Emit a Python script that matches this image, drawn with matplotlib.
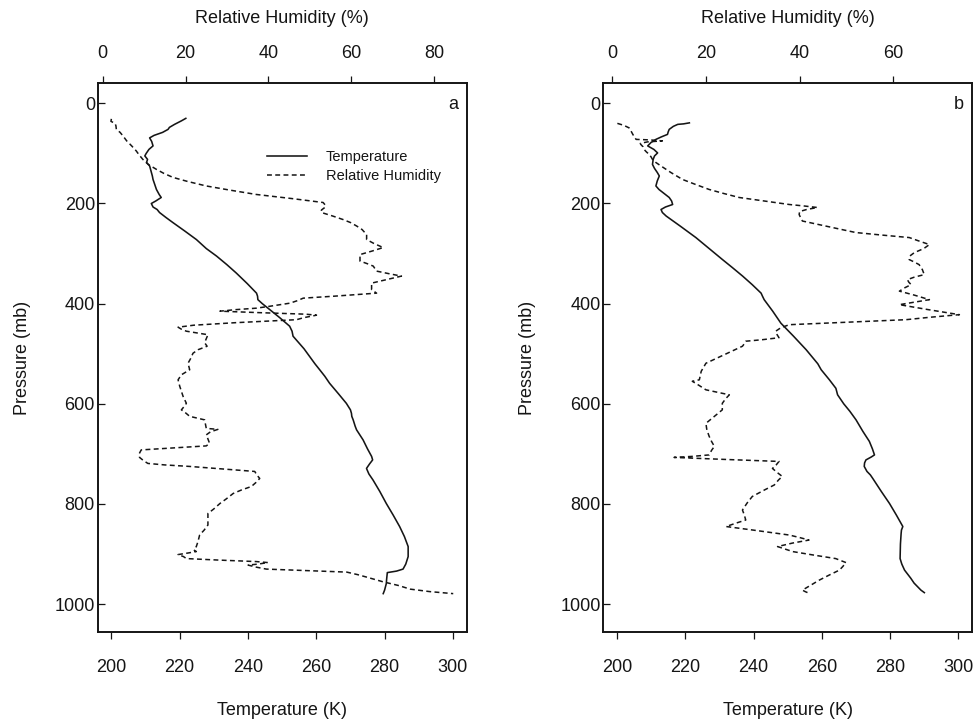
import matplotlib
matplotlib.use("Agg")
import matplotlib.pyplot as plt

plt.rcParams['font.family'] = ['Liberation Sans', 'DejaVu Sans']

# ---------------- data: panel a ----------------
pres_temp_a = [30, 35, 42, 48, 52, 58, 64, 69, 76, 85, 92, 100, 105, 112, 118, 125, 135, 145, 152, 160,
               172, 182, 188, 195, 200, 207, 212, 218, 228, 238, 255, 272, 290, 305, 322, 339, 360, 379,
               385, 392, 400, 412, 428, 445, 455, 465, 490, 520, 532, 545, 559, 580, 599, 612, 619, 625,
               632, 645, 652, 672, 690, 705, 712, 720, 729, 740, 752, 775, 799, 822, 845, 865, 885, 905,
               920, 930, 934, 937, 950, 959, 972, 979]
temp_a = [221.8, 220.5, 218.5, 217.0, 216.6, 215.0, 212.5, 211.2, 211.8, 212.2, 211.0, 210.2, 209.8, 210.6,
          210.3, 211.2, 211.6, 212.0, 212.2, 212.6, 213.2, 214.0, 214.6, 213.0, 211.7, 212.2, 213.4, 214.1,
          216.0, 218.0, 221.5, 224.9, 227.8, 230.8, 233.8, 236.6, 239.8, 242.5, 242.8, 242.9, 244.2, 246.4,
          249.3, 252.2, 252.9, 253.2, 256.4, 259.6, 261.0, 262.5, 263.9, 266.5, 268.8, 270.0, 270.3, 270.4,
          270.8, 271.4, 271.8, 273.7, 275.0, 276.2, 276.5, 275.6, 274.7, 275.4, 276.6, 278.6, 280.5, 282.5,
          284.4, 285.8, 286.9, 286.9, 286.2, 285.4, 283.5, 280.8, 280.6, 280.5, 280.0, 279.6]

pres_rh_a = [31, 36, 40, 45, 52, 58, 65, 75, 85, 95, 103, 112, 122, 132, 140, 148, 156, 165, 173, 182, 190,
             198, 204, 208, 213, 218, 225, 232, 238, 245, 252, 262, 272, 280, 288, 295, 302, 315, 320, 325,
             335, 340, 345, 352, 359, 372, 379, 385, 389, 394, 399, 405, 409, 412, 415, 418, 421, 423, 428,
             432, 438, 443, 447, 451, 455, 462, 470, 478, 485, 492, 499, 510, 519, 532, 542, 552, 565, 575,
             585, 599, 606, 612, 618, 625, 632, 640, 649, 651, 656, 662, 670, 679, 684, 688, 692, 700, 707,
             713, 719, 722, 725, 730, 735, 742, 749, 757, 765, 772, 779, 790, 799, 810, 819, 830, 842, 852,
             862, 875, 885, 892, 895, 898, 901, 905, 909, 912, 915, 917, 920, 922, 926, 930, 933, 936, 941,
             946, 955, 963, 970, 975, 979]
rh_a = [2.1, 2.0, 3.0, 3.2, 3.3, 4.2, 4.9, 5.8, 7.0, 8.1, 8.8, 9.7, 11.0, 13.0, 14.8, 17.0, 20.5, 25.0, 30.5,
        37.1, 45.5, 53.2, 53.8, 53.6, 52.8, 52.8, 55.5, 58.0, 59.8, 61.3, 62.6, 63.7, 63.7, 65.5, 67.7, 65.0,
        62.1, 62.1, 63.8, 65.3, 66.1, 69.0, 72.1, 68.5, 64.9, 64.9, 66.1, 56.0, 48.4, 47.0, 45.2, 40.5, 37.1,
        32.0, 28.3, 38.0, 49.0, 51.6, 48.5, 46.8, 32.0, 22.0, 18.2, 19.0, 20.2, 25.4, 25.0, 24.6, 25.2, 23.0,
        21.8, 21.2, 20.6, 21.0, 19.0, 18.2, 18.6, 19.0, 19.4, 20.2, 19.6, 19.0, 20.0, 21.0, 24.6, 24.8, 25.0,
        27.8, 26.0, 25.0, 25.4, 25.8, 25.0, 17.0, 9.3, 8.8, 8.9, 9.8, 10.9, 15.0, 21.0, 29.0, 36.7, 37.2,
        37.9, 37.0, 35.9, 33.5, 31.5, 29.8, 28.3, 26.8, 25.4, 25.4, 25.4, 24.5, 23.4, 23.0, 22.6, 22.0, 22.6,
        20.5, 18.2, 19.5, 20.2, 28.0, 37.1, 39.9, 37.5, 35.1, 37.0, 39.5, 49.0, 58.9, 61.5, 63.7, 67.5, 71.5,
        74.2, 79.0, 84.6]

# ---------------- data: panel b ----------------
pres_temp_b = [39, 41, 42, 46, 52, 57, 62, 67, 72, 78, 85, 92, 99, 105, 112, 122, 130, 138, 145, 155, 165,
               172, 180, 188, 195, 202, 207, 212, 218, 225, 245, 268, 290, 312, 328, 345, 362, 379, 385, 392,
               415, 439, 465, 492, 520, 532, 552, 569, 582, 600, 615, 632, 655, 675, 690, 702, 706, 712, 718,
               725, 735, 742, 749, 775, 799, 822, 845, 852, 859, 880, 909, 920, 932, 948, 958, 965, 972, 977]
temp_b = [221.2, 219.5, 217.8, 216.5, 215.3, 215.0, 214.8, 213.0, 211.4, 210.0, 209.0, 210.8, 211.9, 211.0,
          210.6, 210.4, 211.0, 211.8, 212.4, 211.8, 211.4, 212.3, 213.8, 215.3, 216.0, 216.3, 214.2, 212.9,
          213.3, 214.4, 218.5, 223.1, 227.0, 230.9, 233.8, 236.8, 239.6, 242.2, 242.6, 243.1, 245.6, 248.0,
          251.7, 255.4, 258.8, 259.8, 262.2, 264.1, 264.6, 266.4, 268.2, 270.0, 272.0, 273.9, 274.8, 275.4,
          274.5, 272.9, 272.5, 272.4, 273.2, 274.2, 274.9, 277.4, 279.8, 281.8, 283.7, 283.3, 283.2, 283.0,
          282.9, 283.4, 284.2, 286.0, 287.0, 288.0, 289.0, 290.0]

pres_rh_b = [40, 44, 49, 55, 62, 68, 72, 73, 75, 77, 80, 82, 87, 92, 97, 102, 107, 112, 118, 125, 138, 152,
             162, 172, 180, 188, 195, 202, 205, 208, 212, 216, 222, 228, 235, 245, 252, 258, 263, 268, 275,
             282, 290, 298, 305, 312, 317, 322, 332, 342, 347, 352, 357, 362, 368, 375, 383, 392, 397, 402,
             412, 422, 427, 432, 437, 442, 448, 455, 462, 468, 472, 475, 480, 485, 495, 508, 519, 535, 552,
             555, 563, 572, 577, 582, 590, 599, 612, 625, 639, 652, 665, 675, 685, 693, 702, 705, 707, 711,
             715, 722, 729, 737, 745, 752, 762, 772, 785, 798, 812, 822, 832, 838, 845, 852, 862, 867, 872,
             878, 885, 890, 895, 902, 909, 913, 917, 925, 932, 942, 952, 962, 972, 975, 977]
rh_b = [1.1, 2.5, 3.6, 4.0, 4.4, 4.8, 5.1, 8.0, 10.7, 7.5, 6.0, 6.1, 6.6, 6.8, 7.3, 7.9, 8.3, 8.6, 9.3, 10.4,
        12.5, 15.0, 17.8, 20.7, 23.8, 27.1, 32.5, 37.8, 41.0, 43.8, 41.5, 40.0, 39.9, 40.2, 40.6, 45.5, 49.0,
        52.0, 57.5, 63.4, 65.5, 67.7, 66.5, 64.5, 63.5, 63.4, 64.5, 65.5, 66.2, 66.6, 64.5, 63.0, 63.3, 63.8,
        62.5, 61.3, 64.5, 67.7, 64.5, 61.3, 67.5, 74.1, 68.0, 62.7, 50.0, 37.8, 36.0, 34.9, 35.2, 35.6, 32.0,
        28.5, 28.2, 27.8, 25.5, 22.5, 20.0, 19.0, 18.6, 17.1, 18.5, 20.0, 22.5, 25.0, 24.2, 23.5, 23.5, 21.8,
        20.0, 20.2, 20.7, 21.2, 21.8, 21.2, 20.7, 17.0, 13.2, 24.0, 35.6, 35.0, 34.2, 35.2, 36.3, 35.5, 34.6,
        32.5, 29.9, 28.8, 27.8, 28.2, 28.5, 26.5, 24.3, 30.0, 37.8, 40.0, 42.0, 38.5, 35.3, 36.9, 38.5, 43.0,
        47.7, 48.8, 49.9, 49.2, 48.5, 46.3, 44.2, 42.4, 40.6, 41.2, 41.7]

temp_ticks = [200, 220, 240, 260, 280, 300]
rh_ticks_a = [0, 20, 40, 60, 80]
rh_ticks_b = [0, 20, 40, 60]
pres_ticks = [0, 200, 400, 600, 800, 1000]

panels = [
    dict(letter='a', left=97.7, pt=pres_temp_a, t=temp_a, pr=pres_rh_a, rh=rh_a,
         rhticks=rh_ticks_a, rhlim=(-1.2, 87.9), legend=True),
    dict(letter='b', left=603.3, pt=pres_temp_b, t=temp_b, pr=pres_rh_b, rh=rh_b,
         rhticks=rh_ticks_b, rhlim=(-1.9, 76.9), legend=False),
]

W, H = 977, 720
fig = plt.figure(figsize=(W / 100, H / 100), dpi=100)
ink = '#151515'
fs = 13

for p in panels:
    ax = fig.add_axes([p['left'] / W, (H - 631.7) / H, 369.2 / W, 548.4 / H])
    lt, = ax.plot(p['t'], p['pt'], color=ink, lw=1.15, label='Temperature')
    ax.set_xticks(temp_ticks)
    ax.set_yticks(pres_ticks)
    ax.set_xlim(196.0, 304.1)
    ax.set_ylim(1055, -40)
    ax.tick_params(axis='x', direction='out', length=4.8, width=0.9, pad=14.5, labelsize=fs, colors=ink)
    ax.tick_params(axis='y', direction='in', length=5, width=0.9, pad=2, labelsize=fs, colors=ink)
    ax.set_xlabel('Temperature (K)', fontsize=fs, color=ink, va='center')
    ax.xaxis.set_label_coords(0.5, -0.1446)
    ax.set_ylabel('Pressure (mb)', fontsize=fs, color=ink, va='center')
    ax.yaxis.set_label_coords(-0.205, 0.5)

    ax2 = ax.twiny()
    lr, = ax2.plot(p['rh'], p['pr'], color=ink, lw=1.1, linestyle=(0, (3.2, 2.2)), label='Relative Humidity')
    ax2.set_xticks(p['rhticks'])
    ax2.set_xlim(*p['rhlim'])
    ax2.set_ylim(1055, -40)
    ax2.tick_params(axis='x', direction='out', length=5, width=0.9, pad=10, labelsize=fs, colors=ink)
    ax2.set_xlabel('Relative Humidity (%)', fontsize=fs, color=ink, va='center')
    ax2.xaxis.set_label_coords(0.5, 1.119)

    for a_ in (ax, ax2):
        for s in a_.spines.values():
            s.set_linewidth(1.2)
            s.set_color(ink)

    ax2.text(0.962, 0.961, p['letter'], transform=ax2.transAxes, ha='center', va='center',
             fontsize=fs, color=ink)

    if p['legend']:
        ax2.legend([lt, lr], ['Temperature', 'Relative Humidity'], loc='upper left',
                   bbox_to_anchor=(0.458, 0.878), frameon=False, fontsize=10.5,
                   handlelength=2.73, handletextpad=1.3, labelspacing=0.35,
                   borderpad=0, borderaxespad=0, labelcolor=ink)

fig.savefig('out.png', dpi=100)
